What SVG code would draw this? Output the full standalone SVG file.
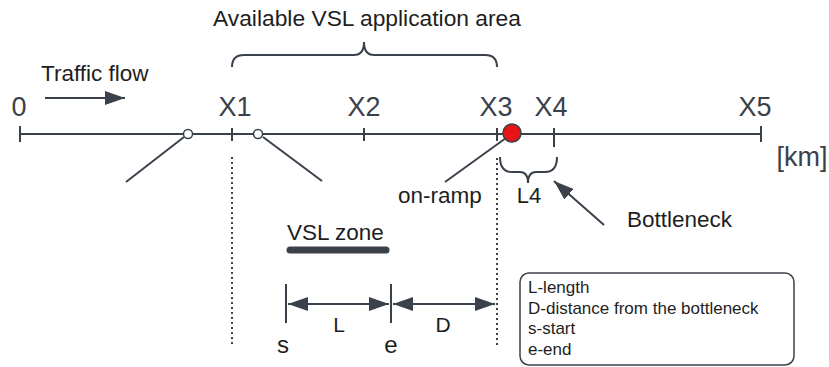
<svg xmlns="http://www.w3.org/2000/svg" width="829" height="367" viewBox="0 0 829 367">
<defs>
<style>
.ln{stroke:#3a414a;stroke-width:2;fill:none}
.dot{stroke:#3a414a;stroke-width:2;fill:none;stroke-dasharray:2 3}
.t{font-family:"Liberation Sans",Arial,sans-serif;fill:#1e1e1e}
.ax{font-family:"Liberation Sans",Arial,sans-serif;fill:#3a414a;font-size:27px;text-anchor:middle}
.lg{font-family:"Liberation Sans",Arial,sans-serif;fill:#1e1e1e;font-size:17px}
</style>
<marker id="ah" viewBox="0 0 20 14" refX="20" refY="7" markerWidth="20" markerHeight="14" markerUnits="userSpaceOnUse" orient="auto-start-reverse">
<path d="M0,0 L20,7 L0,14 Z" fill="#3a414a"/>
</marker>
</defs>
<rect width="829" height="367" fill="#ffffff"/>

<g id="axis">
<line class="ln" x1="20" y1="134" x2="761" y2="134"/>
<line class="ln" x1="20" y1="126" x2="20" y2="142"/>
<line class="ln" x1="232" y1="128" x2="232" y2="141"/>
<line class="ln" x1="364" y1="128" x2="364" y2="141"/>
<line class="ln" x1="497" y1="128" x2="497" y2="141"/>
<line class="ln" x1="554" y1="128" x2="554" y2="147"/>
<line class="ln" x1="761" y1="126" x2="761" y2="142"/>
<text class="ax" x="19" y="116">0</text>
<text class="ax" x="235" y="116">X1</text>
<text class="ax" x="364" y="116">X2</text>
<text class="ax" x="496" y="116">X3</text>
<text class="ax" x="551" y="116">X4</text>
<text class="ax" x="755" y="116">X5</text>
<text class="ax" x="802" y="166">[km]</text>
</g>

<g id="traffic-flow">
<text class="t" x="41" y="81" font-size="22.5">Traffic flow</text>
</g>

<g id="application-area">
<text class="t" x="367" y="26" font-size="22.8" text-anchor="middle">Available VSL application area</text>
<path class="ln" stroke-width="1.5" d="M232,67 Q232,55 244,55 L354,55 Q364,55 364,42 Q364,55 374,55 L485,55 Q497,55 497,67"/>
</g>

<g id="off-ramp">
<line class="ln" x1="184" y1="137" x2="126" y2="182"/>
<circle cx="188" cy="134" r="4.5" fill="#fff" stroke="#3a414a" stroke-width="1.5"/>
</g>

<g id="on-ramp-1">
<line class="ln" x1="263" y1="137" x2="322" y2="181"/>
<circle cx="258" cy="134" r="4.5" fill="#fff" stroke="#3a414a" stroke-width="1.5"/>
</g>

<g id="on-ramp">
<line class="ln" x1="506" y1="138" x2="445" y2="182"/>
<circle cx="512" cy="133" r="9" fill="#e81416" stroke="#3a414a" stroke-width="1.5"/>
<text class="t" x="398" y="203" font-size="22.5">on-ramp</text>
</g>

<g id="L4">
<path class="ln" stroke-width="1.5" d="M500,157 Q500,172 512,172 L520,172 Q528,172 528,183 Q528,172 536,172 L545,172 Q557,172 557,157"/>
<text class="t" x="529" y="203" font-size="22" text-anchor="middle">L4</text>
</g>

<g id="bottleneck">
<text class="t" x="627" y="227" font-size="22.5">Bottleneck</text>
</g>

<g id="vsl-zone">
<text class="t" x="287" y="240" font-size="22.5">VSL zone</text>
<line x1="290" y1="250" x2="386" y2="250" stroke="#3a414a" stroke-width="7" stroke-linecap="round"/>
</g>

<g id="dimension">
<line class="ln" x1="286" y1="284" x2="286" y2="323"/>
<line class="ln" x1="391" y1="284" x2="391" y2="323"/>
<text class="t" x="283" y="353" font-size="24" text-anchor="middle">s</text>
<text class="t" x="391" y="353" font-size="24" text-anchor="middle">e</text>
<text class="t" x="339" y="332" font-size="21" text-anchor="middle">L</text>
<text class="t" x="443" y="332" font-size="21" text-anchor="middle">D</text>
</g>

<g id="legend">
<rect x="520" y="273" width="274" height="92" rx="9" fill="#fff" stroke="#3a414a" stroke-width="1.5"/>
<text class="lg" x="528" y="293">L-length</text>
<text class="lg" x="528" y="314">D-distance from the bottleneck</text>
<text class="lg" x="528" y="334">s-start</text>
<text class="lg" x="528" y="355">e-end</text>
</g>

<g id="connectors">
<line class="ln" x1="45" y1="98" x2="125" y2="98" marker-end="url(#ah)"/>
<line class="ln" x1="604" y1="225" x2="554" y2="181" marker-end="url(#ah)"/>
<line class="ln" x1="288" y1="304" x2="389" y2="304" marker-start="url(#ah)" marker-end="url(#ah)"/>
<line class="ln" x1="393" y1="304" x2="495" y2="304" marker-start="url(#ah)" marker-end="url(#ah)"/>
<line class="dot" x1="232" y1="157" x2="232" y2="344"/>
<line class="dot" x1="497" y1="158" x2="497" y2="346"/>
</g>
</svg>
